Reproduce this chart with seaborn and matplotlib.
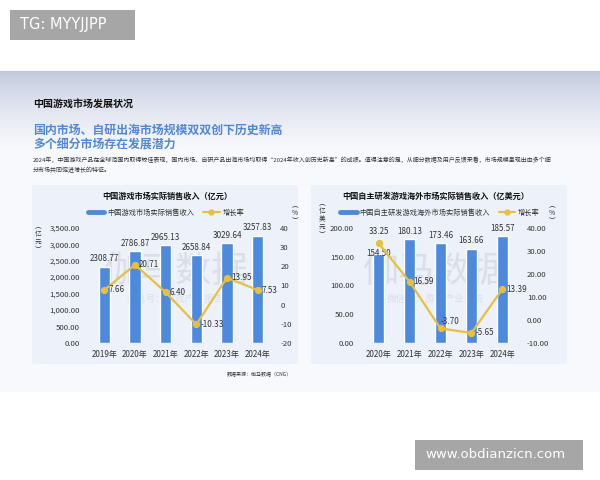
import numpy as np
import matplotlib.pyplot as plt
import seaborn as sns
from matplotlib.patches import FancyBboxPatch, Rectangle
from matplotlib.lines import Line2D

dom_years = ['2019年', '2020年', '2021年', '2022年', '2023年', '2024年']
dom_revenue = [2308.77, 2786.87, 2965.13, 2658.84, 3029.64, 3257.83]
dom_growth = [7.66, 20.71, 6.40, -10.33, 13.95, 7.53]

ovs_years = ['2020年', '2021年', '2022年', '2023年', '2024年']
ovs_revenue = [154.50, 180.13, 173.46, 163.66, 185.57]
ovs_growth = [33.25, 16.59, -3.70, -5.65, 13.39]

BLUE = '#4d89dd'
GOLD = '#e6c03e'
TEXT = '#333333'
PANEL = '#edf2fa'

sns.set_theme(style='white')
plt.rcParams['font.family'] = ['Noto Sans CJK SC', 'DejaVu Sans']

W, H = 600, 480
fig = plt.figure(figsize=(6, 4.8), dpi=100)

# background layer in pixel coordinates
bg = fig.add_axes([0, 0, 1, 1], zorder=-10)
bg.set_xlim(0, W)
bg.set_ylim(H, 0)
bg.axis('off')

# page with a blue-grey fade at the top
bg.add_patch(Rectangle((0, 70), W, 322, color='#f8f9fd', lw=0, zorder=0))
top = np.array([0.75, 0.78, 0.86])
bot = np.array([0.973, 0.978, 0.99])
t = np.linspace(0, 1, 80)[:, None] ** 0.7
grad = (top * (1 - t) + bot * t)[:, None, :]
bg.imshow(grad, extent=(0, W, 150, 71), aspect='auto', zorder=0.5)
bg.set_xlim(0, W)
bg.set_ylim(H, 0)

for x0, x1 in [(32, 298), (311, 567)]:
    bg.add_patch(FancyBboxPatch((x0, 185), x1 - x0, 179, boxstyle='round,pad=0,rounding_size=3',
                                fc=PANEL, ec='none', zorder=1))

# headings
bg.text(33, 105, '中国游戏市场发展状况', fontsize=7.2, fontweight='bold', color='#111111', va='center')
bg.text(33, 130, '国内市场、自研出海市场规模双双创下历史新高', fontsize=8.6, fontweight='bold',
        color='#5287d6', va='center')
bg.text(33, 144.5, '多个细分市场存在发展潜力', fontsize=8.6, fontweight='bold', color='#5287d6', va='center')
bg.text(33, 160, '2024年，中国游戏产品在全球范围内取得较佳表现，国内市场、自研产品出海市场均取得“2024年收入创历史新高”的成绩。'
        '值得注意的是，从细分数据及用户反馈来看，市场规模呈现出由多个细', fontsize=4.3, color=TEXT, va='center')
bg.text(33, 170, '分市场共同促进增长的特征。', fontsize=4.3, color=TEXT, va='center')
bg.text(259, 375, '数据来源：伽马数据（CNG）', fontsize=3.6, color=TEXT, ha='center', va='center')

# overlay stamps from the screenshot
bg.add_patch(Rectangle((10, 10), 125, 30, color='#a6a6a6', lw=0, zorder=5))
bg.text(20, 25, 'TG: MYYJJPP', fontsize=10.5, color='white', va='center', zorder=6,
        family=['DejaVu Sans'])
bg.add_patch(Rectangle((415, 440), 168, 30, color='#a6a6a6', lw=0, zorder=5))
bg.text(425, 455, 'www.obdianzicn.com', fontsize=9.5, color='white', va='center', zorder=6,
        family=['DejaVu Sans'])


def vertical_unit(x, y, text):
    bg.text(x, y, '︵\n' + '\n'.join(text) + '\n︶', fontsize=4.8, color=TEXT, ha='center', va='center',
            linespacing=1.0, zorder=3)


def chart(left_px, right_px, years, revenue, growth, bar_max, bar_step, rate_lo, rate_hi, rate_fmt,
          title, bar_name, title_x, legend_x, unit_l, unit_r, right_pad):
    n = len(years)
    ax = fig.add_axes([left_px / W, 1 - 343 / H, (right_px - left_px) / W, 115.3 / H])
    ax.patch.set_alpha(0)
    sns.barplot(x=years, y=revenue, color=BLUE, width=0.37, saturation=1, ax=ax)
    ax.set_xlim(-0.6, n - 0.4)
    ax.set_ylim(0, bar_max)
    ticks = np.arange(0, bar_max + 1, bar_step)
    ax.set_yticks(ticks)
    ax.set_yticklabels([f'{v:,.2f}' for v in ticks])
    ax.set_xlabel('')
    ax.set_ylabel('')
    ax.tick_params(axis='y', length=0, pad=4.3, labelsize=5.6, labelcolor=TEXT)
    ax.tick_params(axis='x', length=0, pad=5, labelsize=5.8, labelcolor=TEXT)
    for i, v in enumerate(revenue):
        if growth[i] > 30:
            # label sits on the bar top when the rate label takes the space above
            ax.annotate(f'{v:.2f}', (i, v), xytext=(0, 0), textcoords='offset points',
                        ha='center', va='center', fontsize=5.8, color=TEXT, zorder=5)
        else:
            ax.annotate(f'{v:.2f}', (i, v), xytext=(0, 2.5), textcoords='offset points',
                        ha='center', va='bottom', fontsize=5.8, color=TEXT)

    ax2 = ax.twinx()
    sns.lineplot(x=np.arange(n), y=growth, ax=ax2, color=GOLD, marker='o', markersize=4.5,
                 markeredgecolor=GOLD, linewidth=1.6, zorder=4)
    ax2.set_ylim(rate_lo, rate_hi)
    rt = np.arange(rate_lo, rate_hi + 1, 10)
    ax2.set_yticks(rt)
    ax2.set_yticklabels([rate_fmt.format(v) for v in rt])
    ax2.set_ylabel('')
    ax2.tick_params(axis='y', length=0, pad=right_pad, labelsize=5.6, labelcolor=TEXT)
    for i, g in enumerate(growth):
        if g > 30:
            off, ha, va = (0, 5), 'center', 'bottom'
        elif 0 > g > -5:
            off, ha, va = (0, 5), 'left', 'center'
        else:
            off, ha, va = (3, 0), 'left', 'center'
        ax2.annotate(f'{g:.2f}', (i, g), xytext=off, textcoords='offset points',
                     ha=ha, va=va, fontsize=5.8, color=TEXT, zorder=6)

    for a in (ax, ax2):
        for s in a.spines.values():
            s.set_visible(False)
        a.grid(False)

    handles = [Line2D([0], [0], color=BLUE, lw=3.5),
               Line2D([0], [0], color=GOLD, lw=1.5, marker='o', markersize=3.5)]
    ax2.legend(handles, [bar_name, '增长率'], loc='center', bbox_to_anchor=(legend_x / W, 1 - 213 / H),
               bbox_transform=fig.transFigure, ncol=2, frameon=False, fontsize=5.2,
               handlelength=2.3, columnspacing=1.2, handletextpad=0.4, labelcolor=TEXT)

    bg.text(title_x, 196, title, fontsize=5.9, fontweight='bold', color='#111111',
            ha='center', va='center', zorder=3)
    vertical_unit(unit_l[0], unit_l[1], unit_l[2])
    vertical_unit(unit_r[0], unit_r[1], unit_r[2])

    # faint report watermark
    cx = (left_px + right_px) / 2 - 5
    bg.text(cx, 272, '伽马数据', fontsize=26, color='#c9ced8', alpha=0.55, ha='center', va='center', zorder=2)
    bg.text(cx, 299, '微信号：游戏产业报告', fontsize=7, color='#c9ced8', alpha=0.55, ha='center',
            va='center', zorder=2)


chart(86, 276, dom_years, dom_revenue, dom_growth, 3500, 500, -20, 40, '{:.0f}',
      '中国游戏市场实际销售收入（亿元）', '中国游戏市场实际销售收入', 167, 166,
      (38, 238, '亿元'), (295, 213, '%'), 3)
chart(360, 521, ovs_years, ovs_revenue, ovs_growth, 200, 50, -10, 40, '{:.2f}',
      '中国自主研发游戏海外市场实际销售收入（亿美元）', '中国自主研发游戏海外市场实际销售收入', 436, 440,
      (322, 219, '亿美元'), (552, 213, '%'), 4.3)

fig.savefig('out.png', dpi=100)
